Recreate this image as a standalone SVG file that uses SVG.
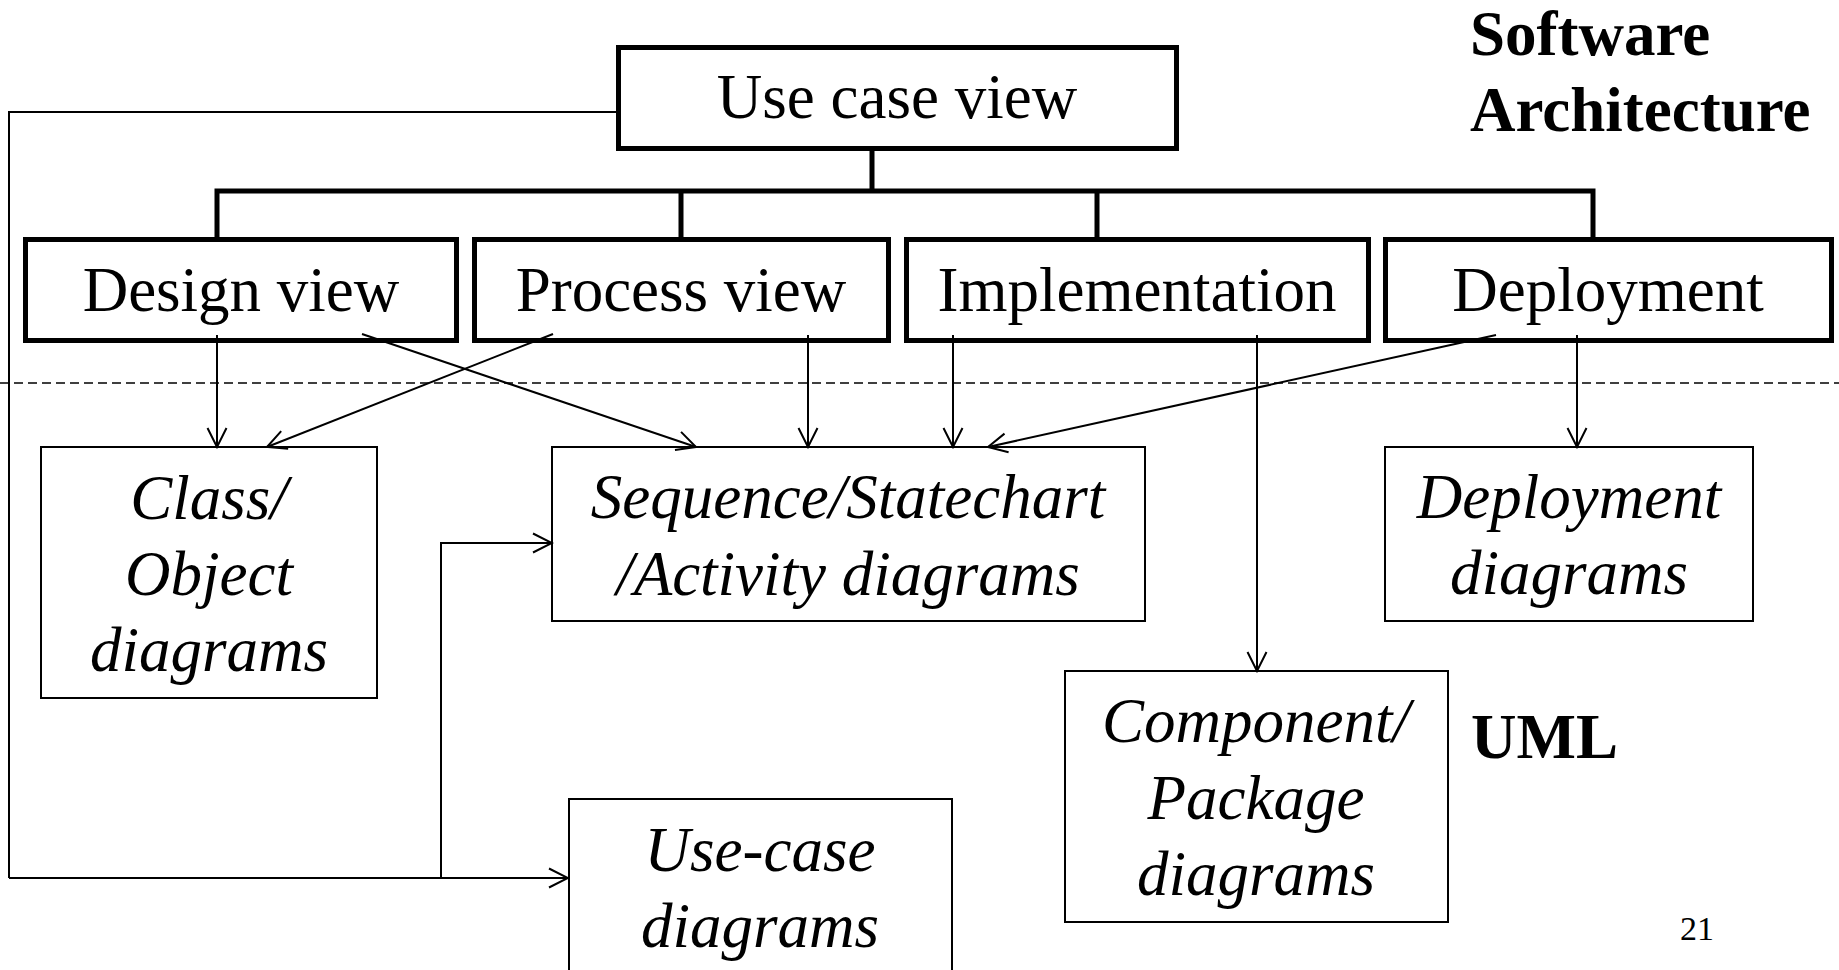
<svg xmlns="http://www.w3.org/2000/svg" width="1839" height="970" viewBox="0 0 1839 970">
  <style>
    .view { fill: #fff; stroke: #000; stroke-width: 5; }
    .diag { fill: #fff; stroke: #000; stroke-width: 2; }
    .lbl { font-family: "Liberation Serif", "Times New Roman", serif; font-size: 63px; fill: #000; text-anchor: middle; }
    .it { font-style: italic; }
    .bold { font-family: "Liberation Serif", "Times New Roman", serif; font-weight: bold; font-size: 63px; fill: #000; }
    .bus { fill: none; stroke: #000; stroke-width: 5; }
    .link { fill: none; stroke: #000; stroke-width: 2; marker-end: url(#arrow); }
    .wire { fill: none; stroke: #000; stroke-width: 2; }
  </style>
  <defs>
    <marker id="arrow" markerUnits="userSpaceOnUse" viewBox="-22 -12 24 24" markerWidth="24" markerHeight="24" refX="0" refY="0" orient="auto">
      <path d="M-19,-9.5 L0,0 L-19,9.5" fill="none" stroke="#000" stroke-width="2"/>
    </marker>
  </defs>
  <rect width="1839" height="970" fill="#fff"/>

  <!-- headings -->
  <text class="bold" x="1470" y="55">Software</text>
  <text class="bold" x="1470" y="131">Architecture</text>
  <text class="bold" x="1471" y="758">UML</text>
  <text x="1697" y="940" font-family="Liberation Serif, serif" font-size="34" text-anchor="middle">21</text>

  <!-- separator between views and diagrams -->
  <line x1="0" y1="383" x2="1839" y2="383" stroke="#000" stroke-width="1.5" stroke-dasharray="9,5"/>

  <!-- views -->
  <g id="use-case-view">
    <rect class="view" x="618.5" y="47.5" width="558" height="101"/>
    <text class="lbl" x="897" y="118">Use case view</text>
  </g>
  <g id="design-view">
    <rect class="view" x="25.5" y="239.5" width="431" height="101"/>
    <text class="lbl" x="241" y="311">Design view</text>
  </g>
  <g id="process-view">
    <rect class="view" x="474.5" y="239.5" width="414" height="101"/>
    <text class="lbl" x="681" y="311">Process view</text>
  </g>
  <g id="implementation-view">
    <rect class="view" x="906.5" y="239.5" width="462" height="101"/>
    <text class="lbl" x="1137" y="311">Implementation</text>
  </g>
  <g id="deployment-view">
    <rect class="view" x="1385.5" y="239.5" width="446" height="101"/>
    <text class="lbl" x="1608" y="311">Deployment</text>
  </g>

  <!-- UML diagrams -->
  <g id="class-diagrams">
    <rect class="diag" x="41" y="447" width="336" height="251"/>
    <text class="lbl it" x="209" y="519">Class/</text>
    <text class="lbl it" x="209" y="595">Object</text>
    <text class="lbl it" x="209" y="671">diagrams</text>
  </g>
  <g id="behaviour-diagrams">
    <rect class="diag" x="552" y="447" width="593" height="174"/>
    <text class="lbl it" x="848" y="518">Sequence/Statechart</text>
    <text class="lbl it" x="848" y="595">/Activity diagrams</text>
  </g>
  <g id="deployment-diagrams">
    <rect class="diag" x="1385" y="447" width="368" height="174"/>
    <text class="lbl it" x="1569" y="518">Deployment</text>
    <text class="lbl it" x="1569" y="594">diagrams</text>
  </g>
  <g id="component-diagrams">
    <rect class="diag" x="1065" y="671" width="383" height="251"/>
    <text class="lbl it" x="1256" y="742">Component/</text>
    <text class="lbl it" x="1256" y="819">Package</text>
    <text class="lbl it" x="1256" y="895">diagrams</text>
  </g>
  <g id="use-case-diagrams">
    <rect class="diag" x="569" y="799" width="383" height="200"/>
    <text class="lbl it" x="760" y="871">Use-case</text>
    <text class="lbl it" x="760" y="947">diagrams</text>
  </g>

  <!-- connectors, drawn over the view boxes -->
  <g id="connectors">
    <path class="bus" d="M872,149 V191 M217,240 V191 H1593 V240 M681,191 V240 M1097,191 V240"/>
    <path class="wire" d="M616,112 H9 V878"/>
    <path class="link" d="M9,878 H568"/>
    <path class="link" d="M441,878 V543 H552"/>
    <path class="link" d="M217,335 V447"/>
    <path class="link" d="M362,334 L696,447"/>
    <path class="link" d="M553,334 L267,447"/>
    <path class="link" d="M808,335 V447"/>
    <path class="link" d="M953,335 V447"/>
    <path class="link" d="M1496,335 L988,447"/>
    <path class="link" d="M1257,335 V671"/>
    <path class="link" d="M1577,335 V447"/>
  </g>
</svg>
